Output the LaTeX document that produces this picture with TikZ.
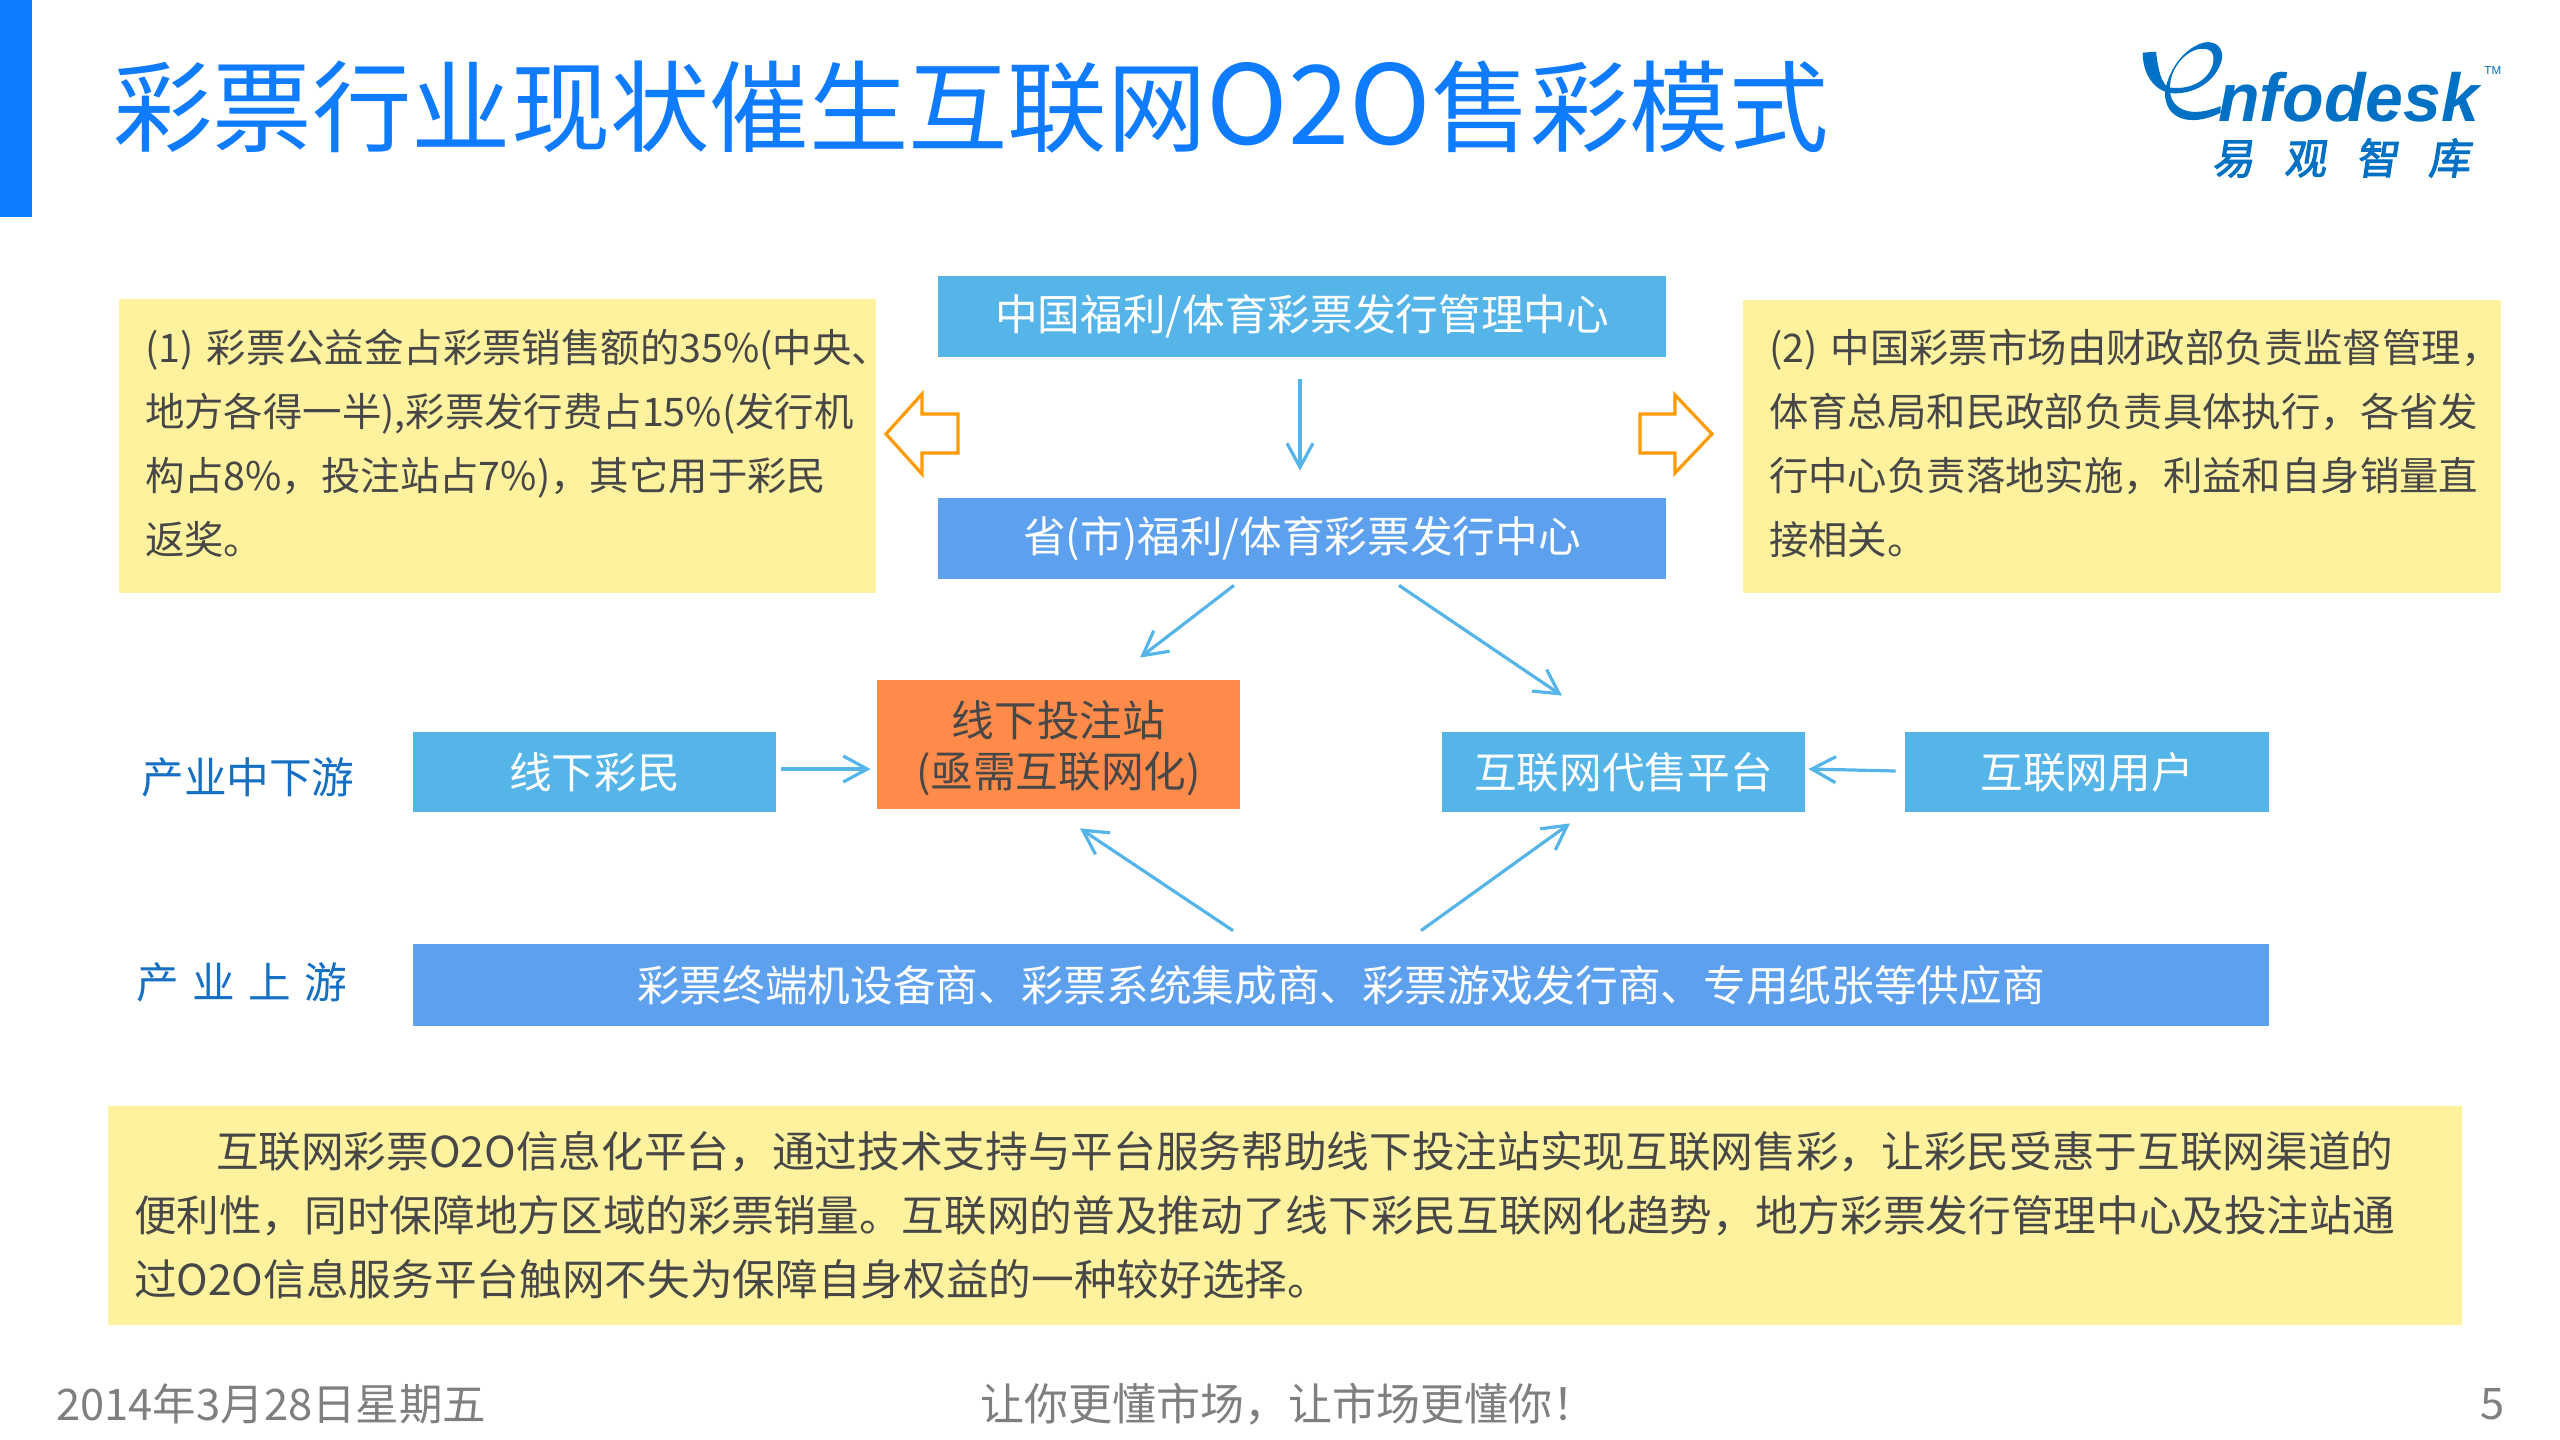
\documentclass[tikz,border=0pt]{standalone}
\usepackage{fontspec}
\setmainfont{Noto Sans CJK SC}
\newfontfamily\logolatin{Liberation Sans}
\newfontfamily\logocnfont[FakeSlant=0.15, FakeBold=2.5]{Noto Sans CJK SC}
\usepackage{xcolor}
\usepackage{tikz}
\usetikzlibrary{arrows.meta}

\definecolor{titleblue}{HTML}{0F7BFF}
\definecolor{skyfill}{HTML}{55B5E8}
\definecolor{midfill}{HTML}{5CA0EE}
\definecolor{shopfill}{HTML}{FF8B4B}
\definecolor{notefill}{HTML}{FFF29E}
\definecolor{notetext}{HTML}{474747}
\definecolor{tagblue}{HTML}{1570C4}
\definecolor{logoblue}{HTML}{0071C5}
\definecolor{footgray}{HTML}{7F7F7F}
\definecolor{hollowline}{HTML}{FF9A00}

\tikzset{
  bluebox/.style={fill=skyfill, text=white, inner sep=0pt, minimum height=40.5pt, font=\fontsize{21.33}{24}\selectfont},
  notebox/.style={fill=notefill, text=notetext, inner sep=0pt, align=left, font=\fontsize{19.7}{32}\selectfont},
  tag/.style={text=tagblue, inner sep=0pt, font=\fontsize{21.33}{24}\selectfont},
  foot/.style={text=footgray, inner sep=0pt, font=\fontsize{21.75}{24}\selectfont},
  flow/.style={draw=skyfill, line width=1.6pt, -{Straight Barb[length=12pt, width=13pt, line width=1.6pt]}},
  hollow/.style={draw=hollowline, line width=1.6pt, miter limit=10, fill=white}
}

\begin{document}
\begin{tikzpicture}[x=0.5pt, y=-0.5pt]
  \useasboundingbox (0,0) rectangle (2560,1440);

  % Barra e titulo
  \fill[titleblue] (0,0) rectangle (32,217);
  \node[anchor=west, text=titleblue, inner sep=0pt, font=\fontsize{49.7}{56}\selectfont] (title) at (113,107) {彩票行业现状催生互联网{\fontsize{55}{56}\selectfont O2O}售彩模式};

  % Logo
  \begin{scope}[shift={(2050,0)}, x=0.1667pt, y=-0.1667pt]
    \fill[logoblue] (278,158) -- (318,155) .. controls (325,215) and (335,250) .. (355,262)
      .. controls (440,275) and (495,220) .. (490,170) .. controls (487,145) and (460,142) .. (435,150)
      .. controls (395,165) and (355,215) .. (360,275) .. controls (365,330) and (425,355) .. (512,318)
      -- (512,338) .. controls (440,375) and (355,370) .. (345,290)
      .. controls (343,240) and (385,150) .. (460,128) .. controls (510,118) and (525,160) .. (512,190)
      .. controls (490,250) and (430,280) .. (375,280) .. controls (320,280) and (278,230) .. (278,158) -- cycle;
  \end{scope}
  \node[anchor=base west, text=logoblue, inner sep=0pt, font=\logolatin\fontsize{34}{36}\selectfont\bfseries\itshape] (logoname) at (2218,121) {nfodesk};
  \node[anchor=base west, text=logoblue, inner sep=0pt, font=\logolatin\fontsize{5.8}{7}\selectfont] (logotm) at (2484,74) {TM};
  \node[text=logoblue, inner sep=0pt, font=\logocnfont\fontsize{21}{24}\selectfont] (logocn) at (2341,158) {\spaceskip 15pt\relax 易 观 智 库};

  % Notas amarelas
  \node[notebox, minimum width=378.5pt, minimum height=147pt, text width=352.5pt] (note1) at (497.5,446) {(1) 彩票公益金占彩票销售额的35\%(中央、\\地方各得一半),彩票发行费占15\%(发行机\\构占8\%，投注站占7\%)，其它用于彩民\\返奖。\par\vspace{3pt}};
  \node[notebox, minimum width=379pt, minimum height=146.5pt, text width=353pt] (note2) at (2122,446.5) {(2) 中国彩票市场由财政部负责监督管理，\\体育总局和民政部负责具体执行，各省发\\行中心负责落地实施，利益和自身销量直\\接相关。\par\vspace{3pt}};
  \node[notebox, minimum width=1177pt, minimum height=109.5pt, text width=1151pt, font=\fontsize{21.33}{32}\selectfont] (note3) at (1285,1215.5) {\hspace*{41pt}互联网彩票O2O信息化平台，通过技术支持与平台服务帮助线下投注站实现互联网售彩，让彩民受惠于互联网渠道的\\便利性，同时保障地方区域的彩票销量。互联网的普及推动了线下彩民互联网化趋势，地方彩票发行管理中心及投注站通\\过O2O信息服务平台触网不失为保障自身权益的一种较好选择。};

  % Caixas centrais
  \node[bluebox, minimum width=364pt] (center) at (1302,316.5) {中国福利/体育彩票发行管理中心};
  \node[bluebox, fill=midfill, minimum width=364pt] (province) at (1302,538.5) {省(市)福利/体育彩票发行中心};
  \node[bluebox, fill=shopfill, text=notetext, align=center, minimum width=181.5pt, minimum height=64.5pt, font=\fontsize{21.33}{25.5}\selectfont] (shop) at (1058.5,744.5) {\rule{0pt}{22pt}线下投注站\\(亟需互联网化)};
  \node[bluebox, minimum width=181.5pt, minimum height=40pt] (buyer) at (594.5,772) {线下彩民};
  \node[bluebox, minimum width=181.5pt, minimum height=40pt] (platform) at (1623.5,772) {互联网代售平台};
  \node[bluebox, minimum width=182pt, minimum height=40pt] (netuser) at (2087,772) {互联网用户};
  \node[bluebox, fill=midfill, minimum width=928pt, minimum height=41pt] (supplier) at (1341,985) {彩票终端机设备商、彩票系统集成商、彩票游戏发行商、专用纸张等供应商};

  % Rotulos
  \node[tag] (midtag) at (248,777.5) {产业中下游};
  \node[tag] (uptag) at (242,982) {\spaceskip 6.7pt\relax 产 业 上 游};

  % Setas
  \draw[flow] ([shift={(-2,22)}]center.south) -- ([shift={(-2,-27)}]province.north);
  \draw[flow] ([shift={(-68,6)}]province.south) -- ([shift={(81.5,-22)}]shop.north);
  \draw[flow] ([shift={(97,6)}]province.south) -- ([shift={(-61.5,-36)}]platform.north);
  \draw[flow] ([shift={(5,-3)}]buyer.east) -- ([shift={(-6,24.5)}]shop.west);
  \draw[flow] ([shift={(-9,-1)}]netuser.west) -- ([shift={(3,-3)}]platform.east);
  \draw[flow] ([shift={(-108,-13)}]supplier.north) -- ([shift={(21.5,19)}]shop.south);
  \draw[flow] ([shift={(80,-13)}]supplier.north) -- ([shift={(-53.5,11)}]platform.south);

  % Setas laranja
  \draw[hollow] (886,434) -- (922,394) -- (922,414) -- (958,414) -- (958,453) -- (922,453) -- (922,474) -- cycle;
  \draw[hollow] (1712,434) -- (1675,395) -- (1675,414) -- (1640,414) -- (1640,453) -- (1675,453) -- (1675,473) -- cycle;

  % Rodape
  \node[foot, anchor=west] (footdate) at (56,1404) {2014年3月28日星期五};
  \node[foot, font=\fontsize{22}{24}\selectfont] (footslogan) at (1288,1404) {让你更懂市场，让市场更懂你！};
  \node[foot, anchor=east] (footpage) at (2505,1404) {5};
\end{tikzpicture}
\end{document}
